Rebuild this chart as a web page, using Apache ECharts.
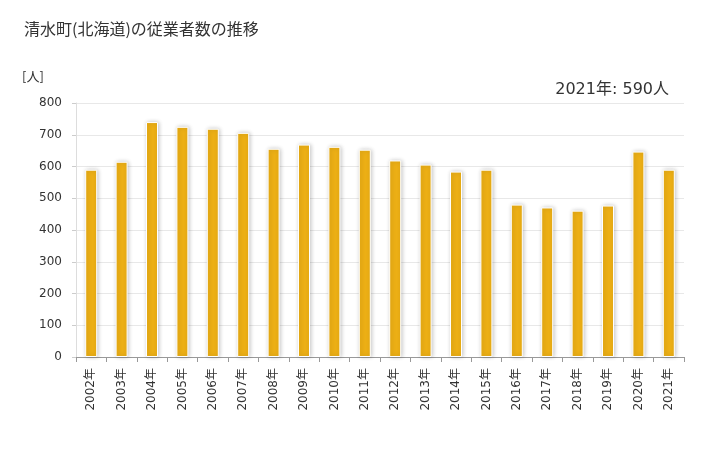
<!DOCTYPE html>
<html><head><meta charset="utf-8">
<script src="https://cdn.jsdelivr.net/npm/echarts@6/dist/echarts.min.js"></script>
<style>html,body{margin:0;padding:0;background:#fff}#c{width:728px;height:450px}</style>
</head><body><div id="c"></div>
<script>
const categories = ["2002年","2003年","2004年","2005年","2006年","2007年","2008年","2009年","2010年","2011年","2012年","2013年","2014年","2015年","2016年","2017年","2018年","2019年","2020年","2021年"];
const values = [590,615,740,725,719,706,656,669,662,653,619,606,584,590,480,471,461,477,647,590];
const yTicks = [0,100,200,300,400,500,600,700,800];
const titleText = "清水町(北海道)の従業者数の推移";
const unitText = "[人]";
const noteText = "2021年: 590人";

const FONT = "'DejaVu Sans','Noto Sans CJK JP',sans-serif";
const chart = echarts.init(document.getElementById('c'));
chart.setOption({
  animation:false,
  backgroundColor:'#fff',
  title:[
    {text:titleText,left:19,top:16,textStyle:{fontSize:16,fontWeight:'normal',color:'#333',fontFamily:"'Noto Sans CJK JP',sans-serif"}},
    {text:unitText,left:17,top:65,textStyle:{fontSize:13,fontWeight:'normal',color:'#333',fontFamily:"'Noto Sans CJK JP',sans-serif"}},
    {text:noteText,right:54,top:77,textStyle:{fontSize:16,fontWeight:'normal',color:'#333',fontFamily:FONT}}
  ],
  grid:{left:76,right:44,top:103,bottom:93},
  xAxis:{type:'category',data:categories,
    axisLine:{lineStyle:{color:'#999'}},
    axisTick:{show:true,lineStyle:{color:'#999'},length:5},
    axisLabel:{rotate:90,fontSize:12,color:'#333',fontFamily:FONT,margin:11}},
  yAxis:{type:'value',min:yTicks[0],max:yTicks[yTicks.length-1],interval:100,
    axisLine:{show:true,lineStyle:{color:'#ddd'}},
    axisTick:{show:true,length:4,lineStyle:{color:'#ccc'}},
    axisLabel:{fontSize:12,color:'#333',fontFamily:FONT,margin:14},
    splitLine:{lineStyle:{color:'#e8e8e8'}}},
  series:[{type:'bar',data:values,barWidth:12,
    itemStyle:{color:'#ECAF15',borderColor:'#fff',borderWidth:1,shadowColor:'rgba(0,0,0,0.22)',shadowBlur:4,shadowOffsetX:1,shadowOffsetY:0}}]
});
</script></body></html>
